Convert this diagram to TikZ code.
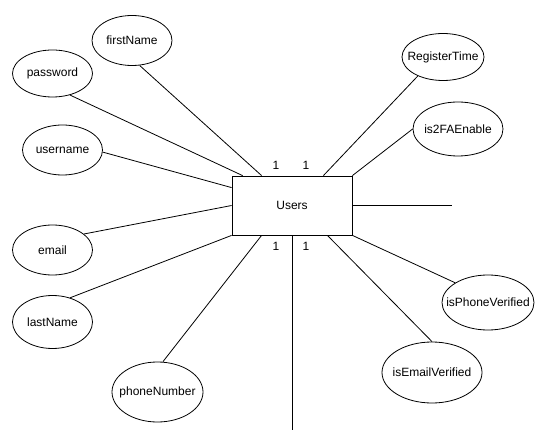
\documentclass[tikz,border=0pt]{standalone}
\usepackage{fontspec}
\setmainfont{Liberation Sans}
\usetikzlibrary{shapes.geometric}

\begin{document}
\begin{tikzpicture}[
  x=1pt,y=-1pt,
  line width=0.8pt,
  font=\fontsize{12}{14}\selectfont,
  entity/.style={draw,minimum width=120pt,minimum height=59pt,inner sep=0pt},
  attr/.style={ellipse,draw,minimum width=80pt,minimum height=50pt,
    inner xsep=-20pt,inner ysep=0pt},
  card/.style={inner sep=0pt}
]
  \useasboundingbox (0,0) rectangle (551,443);
  \node[entity] (users) at (292,205.5) {Users};

  \node[attr] (first) at (132,40.5) {firstName};
  \node[attr,minimum height=47pt] (pass) at (52.5,73.5) {password};
  \node[attr] (user) at (62.5,150) {username};
  \node[attr] (email) at (52.5,250) {email};
  \node[attr,minimum height=53pt] (last) at (52.5,322) {lastName};
  \node[attr,minimum width=91pt,minimum height=60pt] (phone) at (157.5,392) {phoneNumber};
  \node[attr,minimum width=82pt,minimum height=47pt] (regtime) at (443,57) {RegisterTime};
  \node[attr,minimum width=90pt,minimum height=54pt] (twofa) at (458,129) {is2FAEnable};
  \node[attr,minimum width=92pt,minimum height=55pt] (phonever) at (488,302.5) {isPhoneVerified};
  \node[attr,minimum width=100pt,minimum height=61pt] (emailver) at (432,372.5) {isEmailVerified};

  \coordinate (tailR) at (452,205.5);
  \coordinate (tailB) at (292,430);

  \draw (first.-73) -- ([xshift=30pt]users.north west);
  \draw (pass.-51) -- ([xshift=11pt]users.north west);
  \draw (user.-3) -- ([yshift=-12pt]users.north west);
  \draw (email.27) -- (users.west);
  \draw (last.54) -- (users.south west);
  \draw (phone.80) -- ([xshift=30pt]users.south west);
  \draw (users.south) -- (tailB);
  \draw ([xshift=-25pt]users.south east) -- (emailver.north);
  \draw (users.south east) -- (phonever.149);
  \draw (users.east) -- (tailR);
  \draw ([xshift=-29pt]users.north east) -- (regtime.217);
  \draw (users.north east) -- (twofa.west);

  \node[card] (ctl) at (276,165) {1};
  \node[card] (ctr) at (306,165) {1};
  \node[card] (cbl) at (276,246) {1};
  \node[card] (cbr) at (306,246) {1};
\end{tikzpicture}
\end{document}
